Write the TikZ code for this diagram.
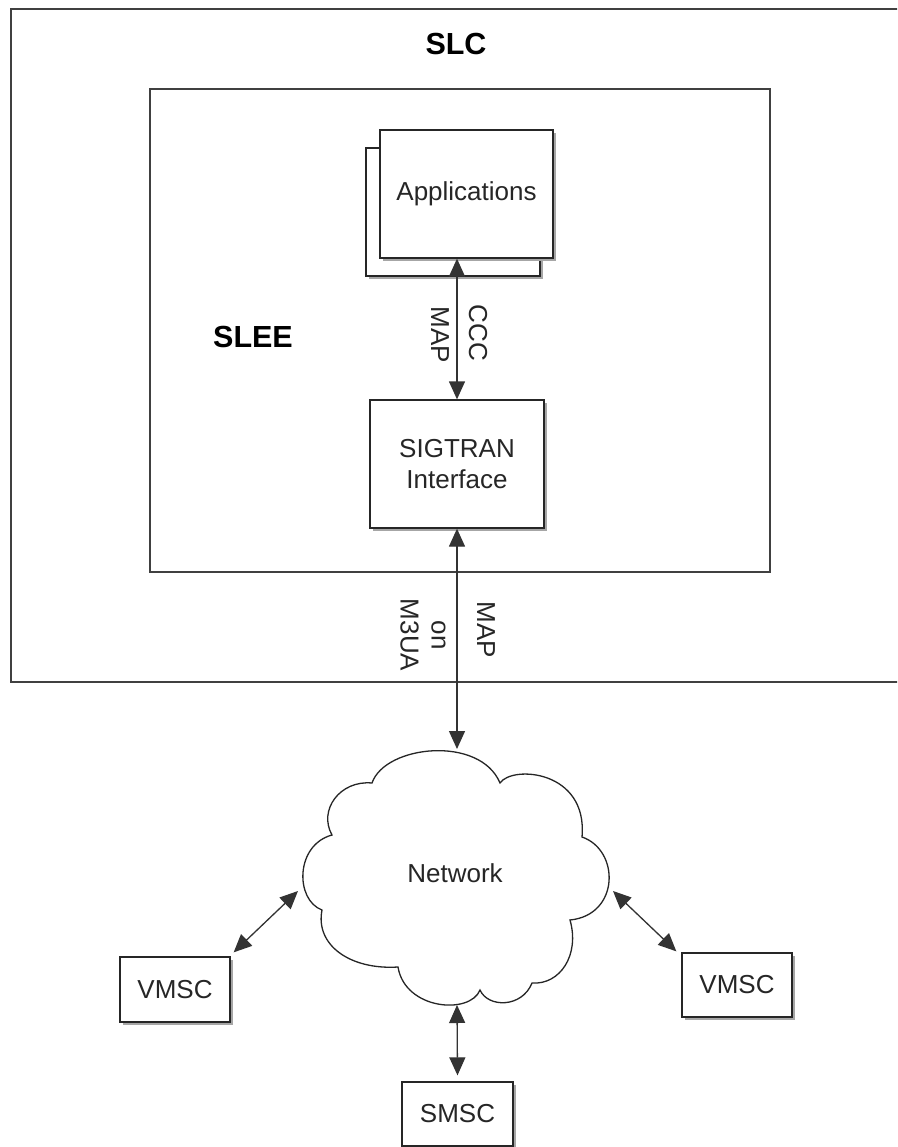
\documentclass[tikz,border=0pt]{standalone}
\usepackage{fontspec}
\setmainfont{Liberation Sans}
\usetikzlibrary{arrows.meta,shadows}
\begin{document}
\begin{tikzpicture}[x=1pt,y=-1pt,
  frame/.style={draw=black!75, line width=1.6pt, inner sep=0pt},
  box/.style={draw=black!85, line width=1.3pt, fill=white, inner sep=0pt,
    drop shadow={shadow xshift=3pt,shadow yshift=-3pt,fill=black!35,opacity=1}},
  txt/.style={font=\fontsize{26}{31}\selectfont, text=black!85, align=center},
  bold/.style={font=\fontsize{30.5}{34}\selectfont\bfseries, text=black},
  arr/.style={arrows={Triangle[length=18pt,width=16pt]-Triangle[length=18pt,width=16pt]}, line width=1.3pt, draw=black!80, fill=black!85},
  cloudline/.style={draw=black!85, line width=1.3pt, fill=white}]
\useasboundingbox (0,0) rectangle (897,1147);
\clip (0,0) rectangle (897,1147);
\fill[white] (0,0) rectangle (897,1147);

% SLC frame
\node[frame, anchor=north west, minimum width=900pt, minimum height=673pt] (slc) at (10,8) {};
\node[bold] (slclabel) at (456,44) {SLC};

% SLEE frame
\node[frame, anchor=north west, minimum width=620pt, minimum height=483pt] (slee) at (149,88) {};
\node[bold] (sleelabel) at (253,337) {SLEE};

% Applications (stacked)
\node[box, minimum width=174pt, minimum height=128pt] (appback) at (453,212) {};
\node[box, minimum width=173pt, minimum height=128pt, txt] (app) at (466.5,194) {Applications};

% SIGTRAN Interface
\node[box, minimum width=174pt, minimum height=128pt, txt] (sig) at (457,464) {SIGTRAN\\Interface};

% Arrow app <-> sigtran
\draw[arr] (sig.north |- app.south) -- (sig.north);
\node[txt, rotate=-90] (ccc) at (478,333) {CCC};
\node[txt, rotate=-90] (map1) at (440,335) {MAP};

% Cloud
\draw[cloudline] (372,783)
  .. controls (385,745) and (480,735) .. (500,783)
  .. controls (512,765) and (588,770) .. (582,837)
  .. controls (620,850) and (620,915) .. (570,920)
  .. controls (580,955) and (560,985) .. (532,983)
  .. controls (522,1008) and (488,1008) .. (480,990)
  .. controls (470,1015) and (405,1010) .. (398,967)
  .. controls (350,970) and (315,945) .. (322,910)
  .. controls (295,900) and (295,845) .. (332,835)
  .. controls (318,810) and (340,780) .. (372,783) -- cycle;
\node[txt] (net) at (455,873) {Network};
\coordinate (ctop) at (457,749);
\coordinate (cbot) at (457,1005);
\coordinate (cleft) at (298,891);
\coordinate (cright) at (613,891);

% Arrow sigtran <-> network
\draw[arr] (sig.south) -- (ctop);
\node[txt, rotate=-90] (map2) at (486,630) {MAP};
\node[txt, rotate=-90] (onm3ua) at (423,635) {on\\M3UA};

% Endpoints
\node[box, minimum width=110pt, minimum height=65pt, txt] (vmscl) at (175,989.5) {VMSC};
\node[box, minimum width=110pt, minimum height=64pt, txt] (vmscr) at (737,985) {VMSC};
\node[box, minimum width=111pt, minimum height=64pt, txt] (smsc) at (457.5,1114) {SMSC};

\draw[arr] (cleft) -- ([xshift=3pt,yshift=4pt]vmscl.north east);
\draw[arr] (cright) -- ([xshift=-5pt,yshift=1pt]vmscr.north west);
\draw[arr] (cbot) -- ([yshift=6pt]smsc.north);
\end{tikzpicture}
\end{document}
